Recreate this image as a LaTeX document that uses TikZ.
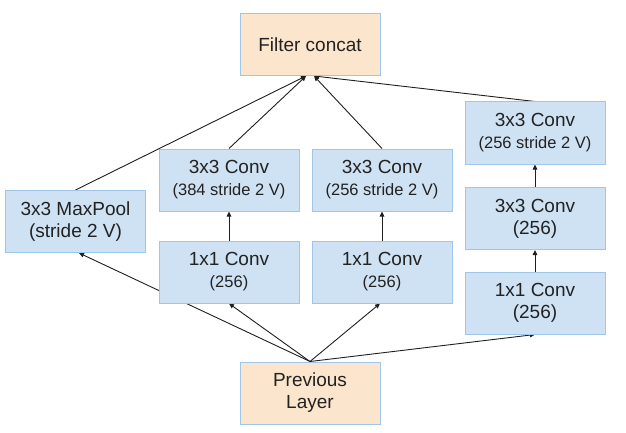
\documentclass[tikz,border=0pt]{standalone}
\usepackage{fontspec}
\setmainfont{Liberation Sans}
\usetikzlibrary{arrows.meta,backgrounds}
\definecolor{bluefill}{HTML}{CFE2F3}
\definecolor{blueline}{HTML}{9FC5E8}
\definecolor{orangefill}{HTML}{FCE5CD}
\definecolor{txt}{HTML}{222222}
\newcommand{\bigfnt}{\fontsize{19}{22}\selectfont}
\newcommand{\smfnt}{\fontsize{16.5}{22}\selectfont}
\begin{document}
\begin{tikzpicture}[x=1pt,y=-1pt,
  box/.style={draw=blueline,line width=1pt,minimum width=140pt,minimum height=62pt,inner sep=0pt,align=center,text=txt,font=\bigfnt},
  bluebox/.style={box,fill=bluefill},
  orbox/.style={box,fill=orangefill},
  conn/.style={draw=black!88,line width=0.9pt,-{Triangle[length=5pt,width=4.5pt]}}]
\useasboundingbox (0,0) rectangle (626,433);
\node[orbox] (concat) at (310,44.5) {Filter concat};
\node[orbox] (prev) at (310,393) {Previous\\Layer};
\node[bluebox] (pool) at (75.5,221.5) {3x3 MaxPool\\(stride 2 V)};
\node[bluebox] (c3a) at (229,180) {3x3 Conv\\{\smfnt (384 stride 2 V)}};
\node[bluebox] (c1a) at (229,272) {1x1 Conv\\{\smfnt (256)}};
\node[bluebox] (c3b) at (382,180) {3x3 Conv\\{\smfnt (256 stride 2 V)}};
\node[bluebox] (c1b) at (382,272) {1x1 Conv\\{\smfnt (256)}};
\node[bluebox] (r3) at (535,133) {3x3 Conv\\{\smfnt (256 stride 2 V)}};
\node[bluebox] (r2) at (535,218.5) {3x3 Conv\\(256)};
\node[bluebox] (r1) at (535,303) {1x1 Conv\\(256)};
\begin{scope}[on background layer]
\draw[conn] (pool.north) -- ([xshift=-4pt]concat.south);
\draw[conn] (c3a.north) -- ([xshift=-4pt]concat.south);
\draw[conn] (c3b.north) -- ([xshift=4pt]concat.south);
\draw[conn] (r3.north) -- ([xshift=4pt]concat.south);
\draw[conn] (prev.north) -- ([xshift=3.5pt]pool.south);
\draw[conn] (prev.north) -- (c1a.south);
\draw[conn] (prev.north) -- ([xshift=-2pt]c1b.south);
\draw[conn] (prev.north) -- (r1.south);
\draw[conn] (c1a) -- (c3a);
\draw[conn] (c1b) -- (c3b);
\draw[conn] (r1) -- (r2);
\draw[conn] (r2) -- (r3);
\end{scope}
\end{tikzpicture}
\end{document}
